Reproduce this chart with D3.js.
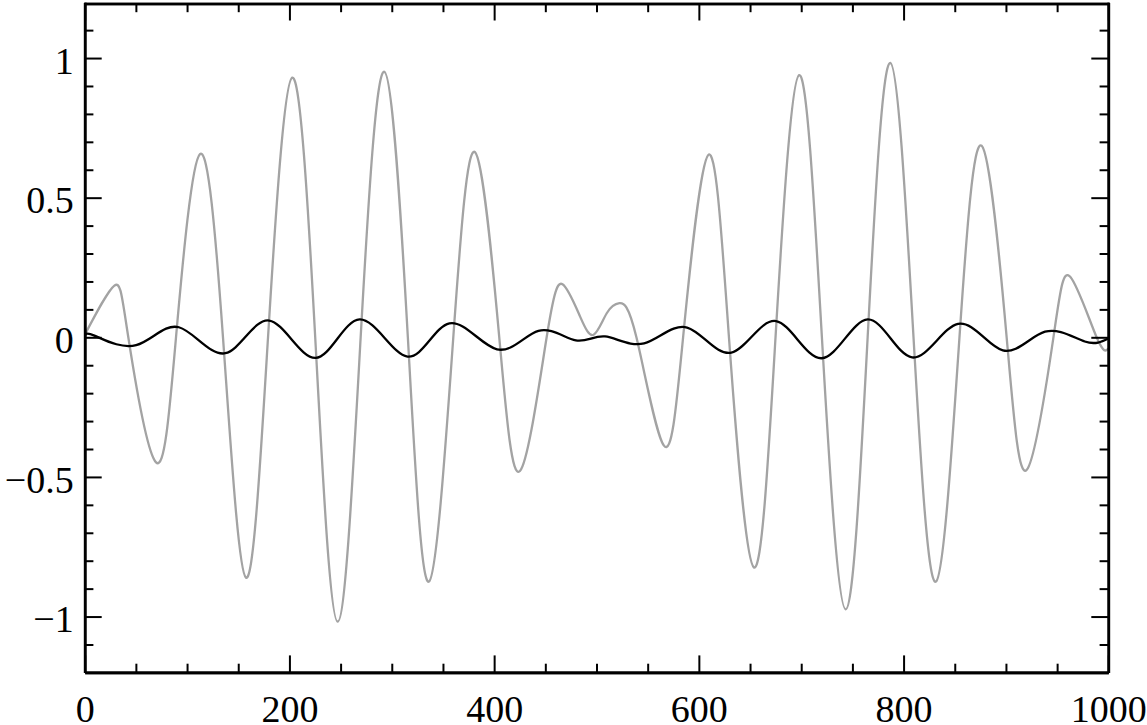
<!DOCTYPE html>
<html>
<head>
<meta charset="utf-8">
<script src="https://cdn.jsdelivr.net/npm/d3@7"></script>
<style>
  html, body { margin: 0; padding: 0; background: #fff; }
  svg { display: block; }
  text { font-family: "Liberation Serif", "Times New Roman", serif; }
</style>
</head>
<body>
<svg id="chart" width="1147" height="725"></svg>
<script>
// ---- data ----
const grayX = [0, 29, 42.6, 69.7, 89.2, 112.6, 135.1, 157.6, 179.1, 202.8, 225.2, 247.1, 269.6, 292.7, 315.7, 336.3, 360.1, 381.3, 405, 425.2, 451.3, 466.8, 484, 497.2, 510, 522.4, 539, 565.9, 584.6, 609.2, 629.4, 653.8, 674.9, 698, 720.2, 743.4, 764.9, 787, 809.7, 831.6, 854.6, 876.2, 900.7, 920.2, 946.4, 962.8, 988.6, 1000];
const grayY = [0.008, 0.185, 0, -0.448, 0, 0.656, 0, -0.861, 0, 0.93, 0, -1.018, 0, 0.951, 0, -0.875, 0, 0.663, 0, -0.479, 0, 0.19, 0.074, 0.009, 0.086, 0.122, 0, -0.388, 0, 0.653, 0, -0.824, 0, 0.939, 0, -0.974, 0, 0.983, 0, -0.875, 0, 0.686, 0, -0.475, 0, 0.217, 0, -0.04];

const blackX = [0, 9.5, 50.3, 92, 137.3, 180.2, 225.5, 268.6, 315.3, 356.3, 402.8, 443.3, 479.8, 508.3, 546.5, 588.5, 631.7, 675.3, 720, 765, 808.3, 853.2, 897, 938.2, 977, 1000];
const blackY = [0.002, 0.006, -0.028, 0.036, -0.057, 0.06, -0.074, 0.064, -0.069, 0.05, -0.043, 0.023, -0.011, 0.003, -0.022, 0.035, -0.055, 0.058, -0.075, 0.064, -0.072, 0.048, -0.047, 0.02, -0.015, -0.004];

const xMajorTicks = [0, 200, 400, 600, 800, 1000];
const xMinorTicks = [50, 100, 150, 250, 300, 350, 450, 500, 550, 650, 700, 750, 850, 900, 950];
const yMajorTicks = [-1, -0.5, 0, 0.5, 1];
const yMinorTicks = [-1.1, -0.9, -0.8, -0.7, -0.6, -0.4, -0.3, -0.2, -0.1, 0.1, 0.2, 0.3, 0.4, 0.6, 0.7, 0.8, 0.9, 1.1];
const yTickLabels = ["\u22121", "\u22120.5", "0", "0.5", "1"];
const xTickLabels = ["0", "200", "400", "600", "800", "1000"];

// ---- layout ----
const padL = 84.7, padR = 1108.3, padT = 2.2, padB = 672.4;
const svg = d3.select("#chart");

const x = d3.scaleLinear().domain([0, 1000]).range([padL, padR]);
const y = d3.scaleLinear().domain([-1.2, 1.2]).range([padB, padT]);

svg.append("defs").append("clipPath").attr("id", "plotclip")
  .append("rect").attr("x", padL).attr("y", padT).attr("width", padR - padL).attr("height", padB - padT);

const line = d3.line().x(d => x(d[0])).y(d => y(d[1])).curve(d3.curveNatural);

const grayData = grayX.map((v, i) => [v, grayY[i]]);
const blackData = blackX.map((v, i) => [v, blackY[i]]);

const plot = svg.append("g").attr("clip-path", "url(#plotclip)");
plot.append("path").datum(grayData).attr("d", line)
  .attr("fill", "none").attr("stroke", "#a3a3a3").attr("stroke-width", 2.3);
plot.append("path").datum(blackData).attr("d", line)
  .attr("fill", "none").attr("stroke", "#000").attr("stroke-width", 2.3);

// ---- axes (inward ticks on all four sides) ----
const MAJ = 17, MIN = 8.7;
function styleAxis(g) {
  g.selectAll(".domain").attr("stroke", "#000").attr("stroke-width", 2.6);
  g.selectAll(".tick line").attr("stroke", "#000").attr("stroke-width", 2);
  g.selectAll(".tick text").attr("fill", "#000").attr("font-size", 38)
    .attr("font-family", "'Liberation Serif', 'Times New Roman', serif");
}

// bottom
svg.append("g").attr("transform", `translate(0,${padB})`)
  .call(d3.axisBottom(x).tickValues(xMinorTicks).tickSize(-MIN).tickSizeOuter(0).tickFormat(""))
  .call(styleAxis);
const bx = svg.append("g").attr("transform", `translate(0,${padB})`)
  .call(d3.axisBottom(x).tickValues(xMajorTicks).tickSize(-MAJ).tickSizeOuter(0)
    .tickFormat((d, i) => xTickLabels[i]))
  .call(styleAxis);
bx.selectAll(".tick text").attr("y", 50).attr("dy", 0);

// top
svg.append("g").attr("transform", `translate(0,${padT + 1.3})`)
  .call(d3.axisTop(x).tickValues(xMinorTicks).tickSize(-MIN).tickSizeOuter(0).tickFormat(""))
  .call(styleAxis);
svg.append("g").attr("transform", `translate(0,${padT + 1.3})`)
  .call(d3.axisTop(x).tickValues(xMajorTicks).tickSize(-MAJ).tickSizeOuter(0).tickFormat(""))
  .call(styleAxis);

// left
svg.append("g").attr("transform", `translate(${padL},0)`)
  .call(d3.axisLeft(y).tickValues(yMinorTicks).tickSize(-MIN).tickSizeOuter(0).tickFormat(""))
  .call(styleAxis);
const ly = svg.append("g").attr("transform", `translate(${padL},0)`)
  .call(d3.axisLeft(y).tickValues(yMajorTicks).tickSize(-MAJ).tickSizeOuter(0)
    .tickFormat((d, i) => yTickLabels[i]))
  .call(styleAxis);
ly.selectAll(".tick text").attr("x", -11).attr("dy", "0.4em");

// right
svg.append("g").attr("transform", `translate(${padR},0)`)
  .call(d3.axisRight(y).tickValues(yMinorTicks).tickSize(-MIN).tickSizeOuter(0).tickFormat(""))
  .call(styleAxis);
svg.append("g").attr("transform", `translate(${padR},0)`)
  .call(d3.axisRight(y).tickValues(yMajorTicks).tickSize(-MAJ).tickSizeOuter(0).tickFormat(""))
  .call(styleAxis);
</script>
</body>
</html>
